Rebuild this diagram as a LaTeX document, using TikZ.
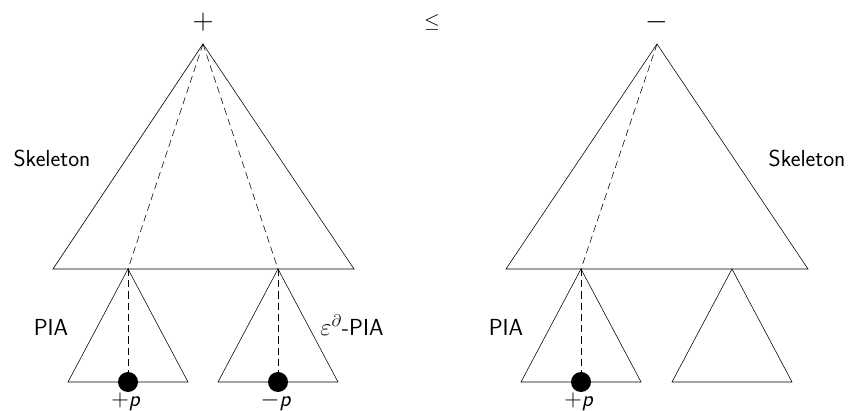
\documentclass[tikz,border=0pt]{standalone}
\usetikzlibrary{positioning}

\begin{document}
\begin{tikzpicture}[
    x=0.025cm, y=-0.025cm,
    every node/.style={font=\sffamily\fontsize{16.5}{20}\selectfont},
    leaf/.style={circle, fill=black, inner sep=0pt, minimum size=0.5cm},
    leaflabel/.style={font=\sffamily\fontsize{16}{18}\selectfont},
    trace/.style={dash pattern=on 5pt off 3pt}
]
\useasboundingbox (0,0) rectangle (853,411);

\coordinate (la) at (203,44);
\coordinate (lb1) at (53,269);
\coordinate (lb2) at (354,269);
\coordinate (l1) at (128,269);
\coordinate (l2) at (278,269);

\node[leaf] (p1) at (128,382) {};
\node[leaf] (p2) at (278,382) {};

\coordinate (ra) at (657,44);
\coordinate (rb1) at (506,269);
\coordinate (rb2) at (808,269);
\coordinate (r1) at (581,269);
\coordinate (r2) at (732,269);

\node[leaf] (q1) at (581,382) {};

\node (plus) at (203,22) {\fontsize{22}{22}\selectfont$+$};
\node (leq) at (432,22) {\fontsize{14}{14}\selectfont$\leq$};
\node (minus) at (657,22) {\fontsize{22}{22}\selectfont$-$};

\node (skl) at (52,158) {Skeleton};
\node (skr) at (807,158) {Skeleton};
\node (pial) at (51,327) {PIA};
\node (piae) at (352,325) {$\varepsilon^{\partial}$-PIA};
\node (piar) at (506,327) {PIA};
\node[leaflabel] (pp) at (126,402) {$+$\textit{p}};
\node[leaflabel] (mp) at (276,402) {$-$\textit{p}};
\node[leaflabel] (qp) at (579,402) {$+$\textit{p}};

\draw (la) -- (lb1) -- (lb2) -- cycle;
\draw (l1) -- (68,382) -- (188,382) -- cycle;
\draw (l2) -- (218,382) -- (338,382) -- cycle;
\draw[trace] (la) -- (l1);
\draw[trace] (la) -- (l2);
\draw[trace] (l1) -- (p1);
\draw[trace] (l2) -- (p2);

\draw (ra) -- (rb1) -- (rb2) -- cycle;
\draw (r1) -- (521,382) -- (641,382) -- cycle;
\draw (r2) -- (672,382) -- (792,382) -- cycle;
\draw[trace] (ra) -- (r1);
\draw[trace] (r1) -- (q1);

\end{tikzpicture}
\end{document}
